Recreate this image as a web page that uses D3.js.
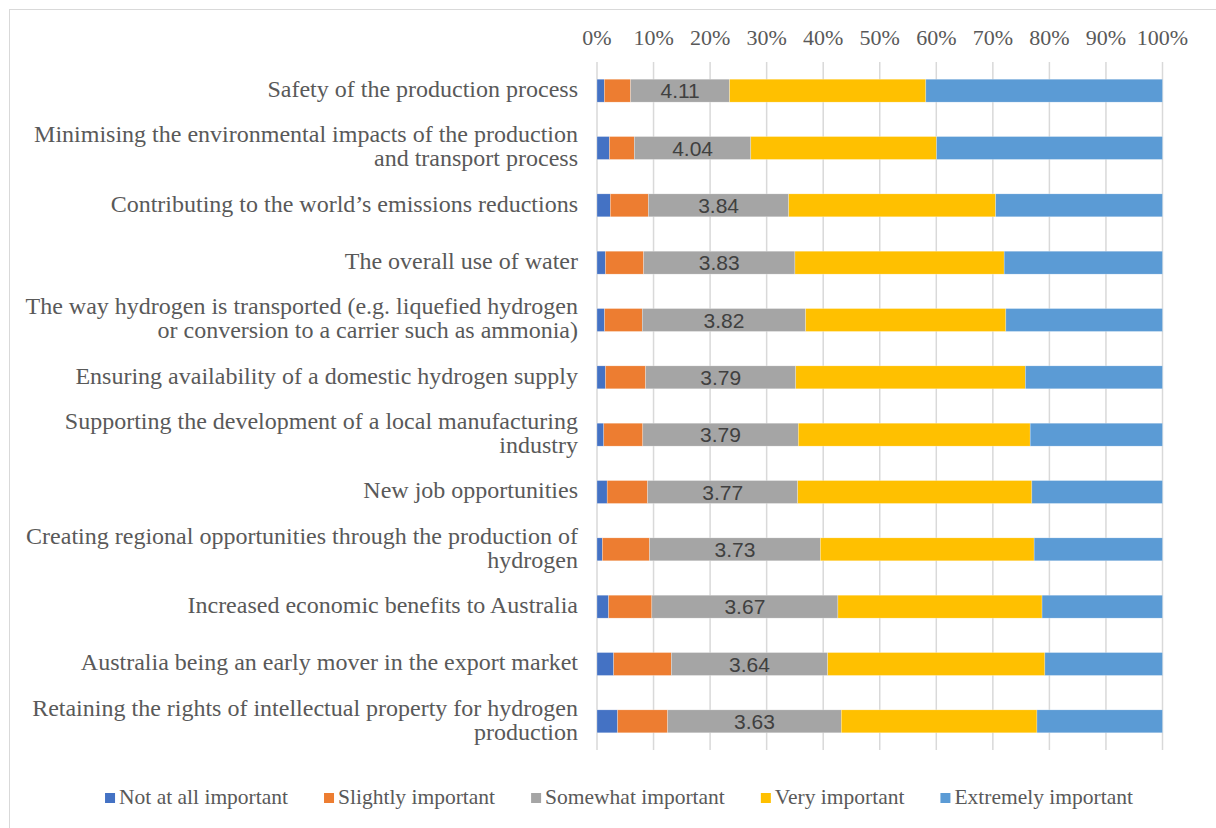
<!DOCTYPE html>
<html lang="en">
<head>
<meta charset="utf-8">
<title>Hydrogen importance ratings</title>
<script src="https://cdn.jsdelivr.net/npm/d3@7"></script>
<style>
    body { margin: 0; background: #fff; }
    .cat, .tick-label, .legend text {
        font-family: "Liberation Serif", "Times New Roman", serif;
        fill: #595959;
    }
    .mean {
        font-family: "Liberation Sans", Arial, sans-serif;
        fill: #404040;
        font-size: 21px;
    }
    .grid line { stroke: #d9d9d9; stroke-width: 1.5; }
</style>
</head>
<body>
<div id="chart"></div>
<script>

// categories as printed (line breaks as in the picture)
var categories = [
    "Safety of the production process",
    "Minimising the environmental impacts of the production\nand transport process",
    "Contributing to the world\u2019s emissions reductions",
    "The overall use of water",
    "The way hydrogen is transported (e.g. liquefied hydrogen\nor conversion to a carrier such as ammonia)",
    "Ensuring availability of a domestic hydrogen supply",
    "Supporting the development of a local manufacturing\nindustry",
    "New job opportunities",
    "Creating regional opportunities through the production of\nhydrogen",
    "Increased economic benefits to Australia",
    "Australia being an early mover in the export market",
    "Retaining the rights of intellectual property for hydrogen\nproduction"
];

var seriesNames = ["Not at all important", "Slightly important", "Somewhat important", "Very important", "Extremely important"];
var seriesColors = ["#4472C4", "#ED7D31", "#A5A5A5", "#FFC000", "#5B9BD5"];

// percentages, one array per response
var notAtAll   = [1.3, 2.2, 2.35, 1.5, 1.35, 1.5, 1.2, 1.8, 0.95, 2.05, 2.95, 3.65];
var slightly   = [4.65, 4.4, 6.75, 6.75, 6.65, 7.1, 6.9, 7.15, 8.35, 7.65, 10.2, 8.85];
var somewhat   = [17.5, 20.6, 24.8, 26.75, 28.9, 26.55, 27.5, 26.55, 30.2, 32.9, 27.65, 30.7];
var very       = [34.7, 32.85, 36.6, 37.0, 35.4, 40.6, 41.0, 41.4, 37.8, 36.1, 38.4, 34.6];
var extremely  = [41.85, 39.95, 29.5, 28.0, 27.7, 24.25, 23.4, 23.1, 22.7, 21.3, 20.8, 22.2];

// mean score shown on the grey segment
var means = ["4.11", "4.04", "3.84", "3.83", "3.82", "3.79", "3.79", "3.77", "3.73", "3.67", "3.64", "3.63"];

var ticks = [0, 10, 20, 30, 40, 50, 60, 70, 80, 90, 100];

var W = 1216, H = 828;
var margin = {top: 62, left: 597, right: 54, bottom: 78};

var svg = d3.select("#chart").append("svg")
    .attr("width", W)
    .attr("height", H);

// chart frame
svg.append("rect")
    .attr("x", 9.5).attr("y", 9.5)
    .attr("width", 1214).attr("height", 824)
    .attr("fill", "none")
    .attr("stroke", "#d9d9d9");

var x = d3.scaleLinear()
    .domain([0, 100])
    .range([margin.left, W - margin.right + 0.5]);

var y = d3.scaleBand()
    .domain(categories)
    .range([margin.top, H - margin.bottom])
    .paddingInner(0.6)
    .paddingOuter(0.3);

// gridlines
svg.append("g").attr("class", "grid")
    .selectAll("line")
    .data(ticks)
    .enter().append("line")
    .attr("x1", function(d) { return x(d); })
    .attr("x2", function(d) { return x(d); })
    .attr("y1", margin.top)
    .attr("y2", H - margin.bottom);

// top axis labels
svg.append("g")
    .selectAll("text")
    .data(ticks)
    .enter().append("text")
    .attr("class", "tick-label")
    .attr("x", function(d) { return x(d); })
    .attr("y", 45)
    .attr("text-anchor", "middle")
    .style("font-size", "22px")
    .text(function(d) { return d + "%"; });

// build rows for the stack
var rows = categories.map(function(c, i) {
    return {cat: c, s0: notAtAll[i], s1: slightly[i], s2: somewhat[i], s3: very[i], s4: extremely[i], mean: means[i]};
});
var keys = ["s0", "s1", "s2", "s3", "s4"];
var stacked = d3.stack().keys(keys)(rows);

svg.append("g")
    .selectAll("g")
    .data(stacked)
    .enter().append("g")
    .attr("fill", function(d, i) { return seriesColors[i]; })
    .selectAll("rect")
    .data(function(d) { return d; })
    .enter().append("rect")
    .attr("x", function(d) { return x(d[0]); })
    .attr("width", function(d) { return x(d[1]) - x(d[0]); })
    .attr("y", function(d) { return y(d.data.cat); })
    .attr("height", y.bandwidth())
    .attr("stroke", "#fff")
    .attr("stroke-opacity", 0.5)
    .attr("stroke-width", 0.5);

// mean labels on the grey segment
svg.append("g")
    .selectAll("text")
    .data(stacked[2])
    .enter().append("text")
    .attr("class", "mean")
    .attr("x", function(d) { return (x(d[0]) + x(d[1])) / 2; })
    .attr("y", function(d) { return y(d.data.cat) + y.bandwidth() / 2; })
    .attr("dy", "0.36em")
    .attr("text-anchor", "middle")
    .text(function(d) { return d.data.mean; });

// category labels
var lineH = 24;
var cats = svg.append("g")
    .selectAll("text")
    .data(categories)
    .enter().append("text")
    .attr("class", "cat")
    .attr("text-anchor", "end")
    .style("font-size", "24px");

cats.each(function(c) {
    var lines = c.split("\n");
    var cy = y(c) + y.bandwidth() / 2;
    var t = d3.select(this);
    lines.forEach(function(l, j) {
        t.append("tspan")
            .attr("x", 578)
            .attr("y", cy + (j - (lines.length - 1) / 2) * lineH)
            .attr("dy", "0.27em")
            .text(l);
    });
});

// legend
var legend = svg.append("g").attr("class", "legend");
var items = legend.selectAll("g")
    .data(seriesNames)
    .enter().append("g");

items.append("rect")
    .attr("width", 10).attr("height", 10)
    .attr("y", -4)
    .attr("fill", function(d, i) { return seriesColors[i]; });

items.append("text")
    .attr("x", 14)
    .attr("y", 1)
    .attr("dy", "0.3em")
    .style("font-size", "21.5px")
    .text(function(d) { return d; });

var gap = 36, pos = 0, starts = [];
items.each(function() {
    starts.push(pos);
    pos += 14 + d3.select(this).select("text").node().getComputedTextLength() + gap;
});
var total = pos - gap;
var startX = 619 - total / 2;
items.attr("transform", function(d, i) { return "translate(" + (startX + starts[i]) + ",797)"; });

</script>
</body>
</html>
